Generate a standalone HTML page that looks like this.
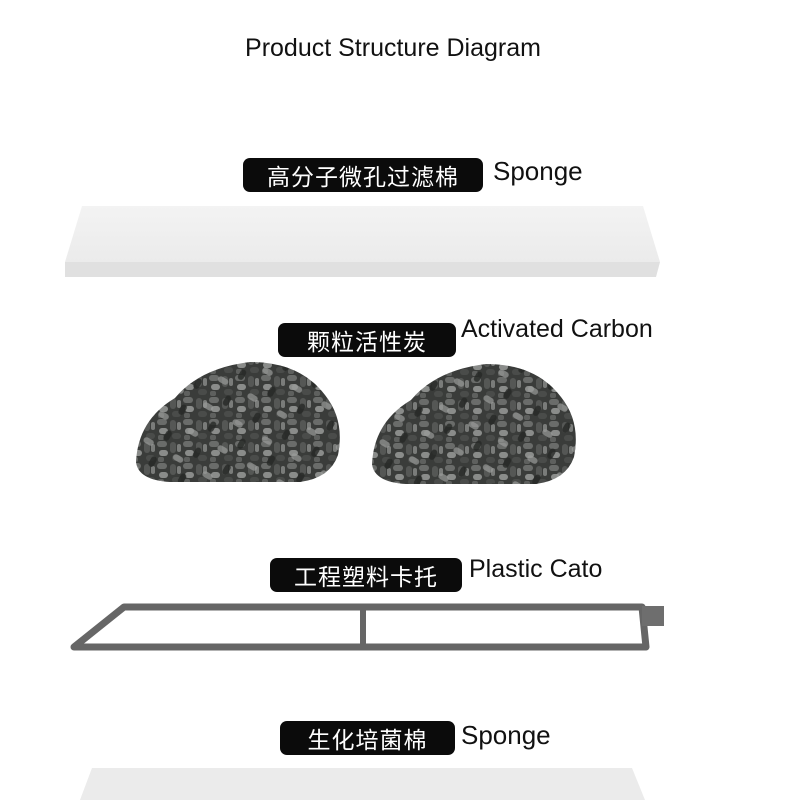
<!DOCTYPE html>
<html><head><meta charset="utf-8"><style>
html,body{margin:0;padding:0;background:#fff;}
body{width:800px;height:800px;overflow:hidden;position:relative;font-family:"Liberation Sans","Noto Sans CJK SC",sans-serif;}
.t{position:absolute;left:0;top:34px;width:786px;text-align:center;font-size:25px;color:#111;}
.lab{position:absolute;background:#0b0b0b;color:#fff;border-radius:7px;font-family:"Noto Sans CJK SC",sans-serif;font-size:23px;text-align:center;line-height:34px;height:34px;letter-spacing:1px;}
.en{position:absolute;font-size:26px;color:#111;}
svg{position:absolute;left:0;top:0;}
</style></head><body>
<svg width="800" height="800" viewBox="0 0 800 800">
<defs>
<linearGradient id="sp" x1="0" y1="0" x2="0" y2="1"><stop offset="0" stop-color="#f3f3f3"/><stop offset="1" stop-color="#ebebeb"/></linearGradient>
<pattern id="pel" width="26" height="22" patternUnits="userSpaceOnUse">
<rect width="26" height="22" fill="#3a3c3a"/>
<rect x="1" y="1" width="10" height="6" rx="3" fill="#6a6c6a"/>
<rect x="14" y="2" width="6" height="11" rx="3" fill="#555755"/>
<rect x="3" y="10" width="9" height="6" rx="3" fill="#8a8c8a"/>
<rect x="16" y="15" width="9" height="6" rx="3" fill="#4a4c4a"/>
<rect x="2" y="17" width="6" height="5" rx="2" fill="#5e605e"/>
<rect x="21" y="4" width="4" height="8" rx="2" fill="#7a7c7a"/>
</pattern>
<pattern id="pel2" width="34" height="30" patternUnits="userSpaceOnUse" patternTransform="rotate(30)">
<rect x="4" y="5" width="11" height="6" rx="3" fill="#9a9c9a" opacity=".7"/>
<rect x="20" y="18" width="6" height="11" rx="3" fill="#262826" opacity=".8"/>
</pattern>
<path id="m1" d="M136,462 Q138,420 175,398 Q200,368 250,362 Q300,362 325,395 Q345,420 338,455 Q330,478 300,482 L170,482 Q138,480 136,462 Z"/>
</defs>
<polygon points="82,206 643,206 660,262 65,262" fill="url(#sp)"/>
<polygon points="65,262 660,262 656,277 65,277" fill="#e0e0e0"/>
<use href="#m1" fill="url(#pel)"/><use href="#m1" fill="url(#pel2)"/>
<g transform="translate(236,2)"><use href="#m1" fill="url(#pel)"/><use href="#m1" fill="url(#pel2)"/></g>
<g fill="none" stroke="#666" stroke-width="7" stroke-linejoin="round">
<polygon points="124,607 642,607 646,647 74,647"/>
<line x1="363" y1="608" x2="363" y2="646" stroke-width="6"/>
</g>
<rect x="642" y="606" width="22" height="20" fill="#6e6e6e"/>
<polygon points="92,768 632,768 645,800 80,800" fill="#ebebeb"/>
</svg>
<div class="t">Product Structure Diagram</div>
<div class="lab" style="left:243px;top:158px;width:240px;">高分子微孔过滤棉</div>
<div class="en" style="left:493px;top:156px;">Sponge</div>
<div class="lab" style="left:278px;top:323px;width:178px;">颗粒活性炭</div>
<div class="en" style="left:461px;top:315px;font-size:25px;">Activated Carbon</div>
<div class="lab" style="left:270px;top:558px;width:192px;">工程塑料卡托</div>
<div class="en" style="left:469px;top:555px;font-size:25px;">Plastic Cato</div>
<div class="lab" style="left:280px;top:721px;width:175px;">生化培菌棉</div>
<div class="en" style="left:461px;top:720px;">Sponge</div>
</body></html>
